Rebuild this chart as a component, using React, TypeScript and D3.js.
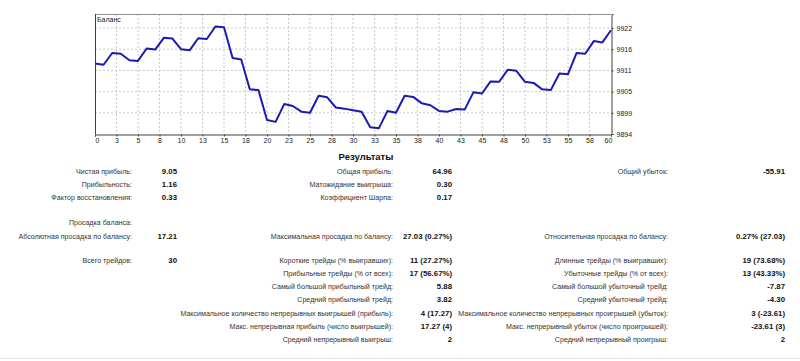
import React, { useEffect, useRef } from 'react';
import * as d3 from 'd3';

// balance after each deal (0..60)
const balance = [
  9912.4, 9912.1, 9915.2, 9915.0, 9913.3, 9913.1, 9916.4, 9916.1, 9919.2, 9919.0,
  9916.2, 9915.9, 9919.1, 9918.9, 9922.2, 9922.0, 9913.9, 9913.5, 9905.6, 9905.4,
  9897.5, 9897.0, 9901.7, 9901.2, 9899.7, 9899.4, 9903.9, 9903.5, 9900.8, 9900.5,
  9900.1, 9899.7, 9895.6, 9895.3, 9899.85, 9899.4, 9903.9, 9903.6, 9901.9, 9901.4,
  9899.9, 9899.7, 9900.4, 9900.3, 9904.8, 9904.5, 9907.7, 9907.6, 9910.8, 9910.5,
  9907.6, 9907.3, 9905.6, 9905.4, 9909.8, 9909.6, 9915.2, 9915.0, 9918.35, 9918.0,
  9921.2,
];
const xTicks = d3.range(0, 60.01, 2.5);
const yTicks = [9893.8, 9899.4, 9905.0, 9910.6, 9916.2, 9921.8];

const title = 'Результаты';
const summaryCol1 = [['Чистая прибыль:', '9.05'], ['Прибыльность:', '1.16'], ['Фактор восстановления:', '0.33']];
const summaryCol2 = [['Общая прибыль:', '64.96'], ['Матожидание выигрыша:', '0.30'], ['Коэффициент Шарпа:', '0.17']];
const summaryCol3 = [['Общий убыток:', '-55.91']];
const drawdownHead = 'Просадка баланса:';
const drawdownRow = [
  ['Абсолютная просадка по балансу:', '17.21'],
  ['Максимальная просадка по балансу:', '27.03 (0.27%)'],
  ['Относительная просадка по балансу:', '0.27% (27.03)'],
];
const tradesCol1 = [['Всего трейдов:', '30']];
const tradesCol2 = [
  ['Короткие трейды (% выигравших):', '11 (27.27%)'],
  ['Прибыльные трейды (% от всех):', '17 (56.67%)'],
  ['Самый большой прибыльный трейд:', '5.88'],
  ['Средний прибыльный трейд:', '3.82'],
  ['Максимальное количество непрерывных выигрышей (прибыль):', '4 (17.27)'],
  ['Макс. непрерывная прибыль (число выигрышей):', '17.27 (4)'],
  ['Средний непрерывный выигрыш:', '2'],
];
const tradesCol3 = [
  ['Длинные трейды (% выигравших):', '19 (73.68%)'],
  ['Убыточные трейды (% от всех):', '13 (43.33%)'],
  ['Самый большой убыточный трейд:', '-7.87'],
  ['Средний убыточный трейд:', '-4.30'],
  ['Максимальное количество непрерывных проигрышей (убыток):', '3 (-23.61)'],
  ['Макс. непрерывный убыток (число проигрышей):', '-23.61 (3)'],
  ['Средний непрерывный проигрыш:', '2'],
];

const FONT = '"Liberation Sans", Arial, sans-serif';

const App = () => {
  const ref = useRef<SVGSVGElement>(null);

  useEffect(() => {
    const svg = d3.select(ref.current);
    svg.selectAll('*').remove();

    const plot = { left: 95, right: 611, top: 14, bottom: 134 };
    const x = d3.scaleLinear().domain([0, 60]).range([plot.left, plot.right]);
    const y = d3.scaleLinear().domain([9893.8, 9925.5]).range([plot.bottom, plot.top]);

    // grid
    const grid = svg.append('g').attr('stroke', '#c8c8c8').attr('stroke-dasharray', '2,2');
    grid.selectAll('.gx').data(xTicks.slice(1, -1)).enter().append('line')
      .attr('x1', d => x(d)).attr('x2', d => x(d))
      .attr('y1', plot.top).attr('y2', plot.bottom);
    grid.selectAll('.gy').data(yTicks.slice(1)).enter().append('line')
      .attr('x1', plot.left).attr('x2', plot.right)
      .attr('y1', d => y(d)).attr('y2', d => y(d));

    // frame
    svg.append('line').attr('x1', plot.left).attr('x2', plot.right).attr('y1', plot.top + 0.5).attr('y2', plot.top + 0.5)
      .attr('stroke', '#909090');
    svg.append('line').attr('x1', plot.left + 0.5).attr('x2', plot.left + 0.5).attr('y1', plot.top).attr('y2', plot.bottom)
      .attr('stroke', '#404040');

    // axes
    svg.append('g')
      .attr('transform', `translate(0,${plot.bottom + 0.5})`)
      .call(d3.axisBottom(x).tickValues(xTicks).tickSize(2).tickFormat(d => String(Math.round(+d))))
      .call(g => g.select('.domain').attr('stroke', '#404040'))
      .call(g => g.selectAll('.tick line').attr('stroke', '#404040'))
      .call(g => g.selectAll('text').attr('font-family', FONT).attr('font-size', 7).attr('fill', '#222').attr('dy', '0.5em'))
      .call(g => g.selectAll('.tick:first-of-type text').attr('dx', 2))
      .call(g => g.selectAll('.tick:last-of-type text').attr('dx', -3));

    svg.append('g')
      .attr('transform', `translate(${plot.right + 0.5},0)`)
      .call(d3.axisRight(y).tickValues(yTicks).tickSize(2).tickFormat(d => String(Math.round(+d))))
      .call(g => g.select('.domain').attr('stroke', '#404040'))
      .call(g => g.selectAll('.tick line').attr('stroke', '#404040'))
      .call(g => g.selectAll('text').attr('font-family', FONT).attr('font-size', 7).attr('fill', '#222'));

    svg.append('text').attr('x', 97).attr('y', 22).text('Баланс')
      .attr('font-family', FONT).attr('font-size', 7).attr('fill', '#222');

    // balance line
    const line = d3.line<number>().x((_, i) => x(i)).y(d => y(d));
    svg.append('path').datum(balance).attr('d', line)
      .attr('fill', 'none').attr('stroke', '#1a1ab4').attr('stroke-width', 2).attr('stroke-linejoin', 'round');

    // results table
    const table = svg.append('g').attr('font-family', FONT);
    table.append('text').attr('x', 366).attr('y', 160).attr('text-anchor', 'middle')
      .attr('font-weight', 'bold').attr('font-size', 9.5).attr('fill', '#111').text(title);

    const cols = [
      { label: 132, value: 177 },
      { label: 393, value: 452 },
      { label: 668, value: 785 },
    ];
    const drawRows = (rows: string[][], col: number, y0: number, step: number) => {
      rows.forEach((r, i) => {
        const yy = y0 + i * step + 3;
        table.append('text').attr('x', cols[col].label).attr('y', yy).attr('text-anchor', 'end')
          .attr('font-size', 7.1).attr('fill', '#333').text(r[0]);
        table.append('text').attr('x', cols[col].value).attr('y', yy).attr('text-anchor', 'end')
          .attr('font-size', 7.8).attr('font-weight', 'bold').attr('fill', '#111').text(r[1]);
      });
    };
    drawRows(summaryCol1, 0, 171, 13.2);
    drawRows(summaryCol2, 1, 171, 13.2);
    drawRows(summaryCol3, 2, 171, 13.2);
    table.append('text').attr('x', cols[0].label).attr('y', 225).attr('text-anchor', 'end')
      .attr('font-size', 7.1).attr('fill', '#333').text(drawdownHead);
    drawdownRow.forEach((r, i) => drawRows([r], i, 235.5, 0));
    drawRows(tradesCol1, 0, 259.5, 13.3);
    drawRows(tradesCol2, 1, 259.5, 13.3);
    drawRows(tradesCol3, 2, 259.5, 13.3);

    svg.append('line').attr('x1', 0).attr('x2', 800).attr('y1', 358.5).attr('y2', 358.5).attr('stroke', '#e4e4e4');
  }, []);

  return (
    <svg ref={ref} width={800} height={361}
      style={{ position: 'absolute', left: 0, top: 0, background: '#fff' }} />
  );
};

export default App;
